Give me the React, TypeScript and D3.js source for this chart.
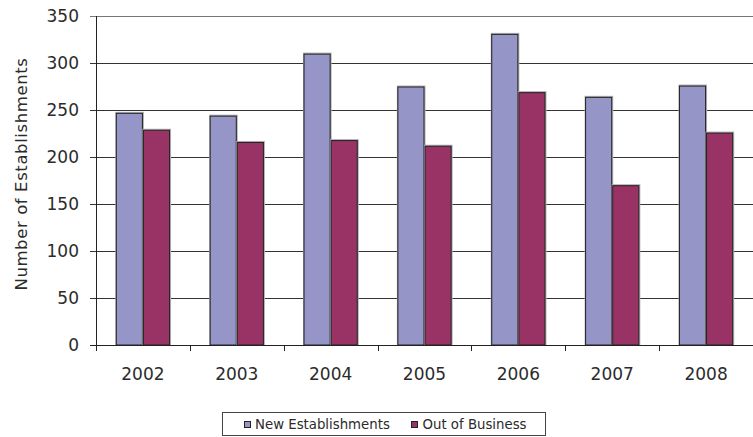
import React from "react";
import * as d3 from "d3";

const years = ["2002", "2003", "2004", "2005", "2006", "2007", "2008"];
const newEstablishments = [247, 244, 310, 275, 331, 264, 276];
const outOfBusiness = [229, 216, 218, 212, 269, 170, 226];
const seriesNames = ["New Establishments", "Out of Business"];
const seriesColors = ["#9595C8", "#993366"];
const yTicks = [0, 50, 100, 150, 200, 250, 300, 350];

const W = 753;
const H = 437;
const left = 96;
const right = 753;
const top = 16;
const bottom = 345;
const font = "'DejaVu Sans', sans-serif";
const textColor = "#2b2b2b";

export default function App() {
  const x = d3.scaleBand<string>().domain(years).range([left, right]).padding(0);
  const inner = d3
    .scaleBand<string>()
    .domain(seriesNames)
    .range([0, x.bandwidth()])
    .paddingInner(0)
    .paddingOuter(0.73);
  const y = d3.scaleLinear().domain([0, 350]).range([bottom, top]);
  const data = [newEstablishments, outOfBusiness];

  return (
    <svg width={W} height={H} style={{ position: "absolute", left: 0, top: 0, background: "#fff" }}>
      {/* gridlines */}
      {yTicks.map((t) => (
        <line
          key={"g" + t}
          x1={left - 6}
          x2={right}
          y1={Math.round(y(t)) + 0.5}
          y2={Math.round(y(t)) + 0.5}
          stroke={t === 350 ? "#777" : "#333"}
          strokeWidth={1}
        />
      ))}
      {/* y labels */}
      {yTicks.map((t) => (
        <text
          key={"yl" + t}
          x={79}
          y={y(t)}
          dy="0.36em"
          textAnchor="end"
          fontFamily={font}
          fontSize={17}
          fill={textColor}
        >
          {t}
        </text>
      ))}
      {/* bars */}
      {years.map((yr, i) =>
        seriesNames.map((s, j) => {
          const bx = (x(yr) as number) + (inner(s) as number);
          const by = y(data[j][i]);
          const bw = inner.bandwidth();
          return (
            <g key={yr + s}>
              <rect x={bx - 0.5} y={by - 1} width={bw + 1.5} height={bottom - by + 1} fill="#b0b0b0" />
              <rect
                x={bx + 0.5}
                y={by + 0.5}
                width={bw - 1}
                height={bottom - by - 0.5}
                fill={seriesColors[j]}
                stroke="#222"
                strokeWidth={1}
              />
            </g>
          );
        })
      )}
      {/* axes */}
      <line x1={left + 0.5} x2={left + 0.5} y1={top} y2={bottom + 0.5} stroke="#222" />
      <line x1={left - 6} x2={right} y1={bottom + 0.5} y2={bottom + 0.5} stroke="#222" />
      {years.map((yr) => (
        <line
          key={"xt" + yr}
          x1={Math.round(x(yr) as number) + 0.5}
          x2={Math.round(x(yr) as number) + 0.5}
          y1={bottom}
          y2={bottom + 6}
          stroke="#222"
        />
      ))}
      {years.map((yr) => (
        <text
          key={"xl" + yr}
          x={(x(yr) as number) + x.bandwidth() / 2}
          y={380}
          textAnchor="middle"
          fontFamily={font}
          fontSize={17}
          fill={textColor}
        >
          {yr}
        </text>
      ))}
      {/* y axis title */}
      <text
        transform={`translate(27,174) rotate(-90)`}
        textAnchor="middle"
        fontFamily={font}
        fontSize={16.5}
        letterSpacing={0.6}
        fill={textColor}
      >
        Number of Establishments
      </text>
      {/* legend */}
      <rect x={222.5} y={412.5} width={323} height={23} fill="#fff" stroke="#444" />
      <rect x={244.5} y={421.5} width={6} height={6} fill={seriesColors[0]} stroke="#222" />
      <text x={255} y={429} fontFamily={font} fontSize={13.3} fill={textColor}>
        {seriesNames[0]}
      </text>
      <rect x={411.5} y={421.5} width={6} height={6} fill={seriesColors[1]} stroke="#222" />
      <text x={422.5} y={429} fontFamily={font} fontSize={13.3} fill={textColor}>
        {seriesNames[1]}
      </text>
    </svg>
  );
}
